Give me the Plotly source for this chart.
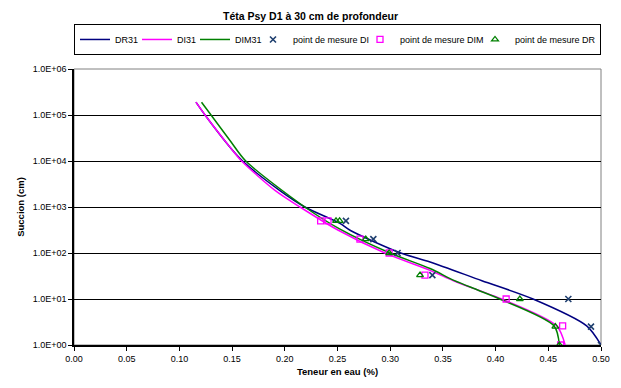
import plotly.graph_objects as go

# Fitted curves (teneur en eau, succion cm)
dr31_theta = [0.1157, 0.1243, 0.148, 0.160, 0.195, 0.219, 0.2523, 0.2619, 0.310, 0.3378, 0.387, 0.4355, 0.4864, 0.500]
dr31_h = [190000, 100000, 20000, 10000, 2300, 1000, 440, 312, 100, 64, 25, 10, 2.6, 1]

di31_theta = [0.1157, 0.1243, 0.148, 0.159, 0.1907, 0.2144, 0.2508, 0.295, 0.3378, 0.360, 0.3836, 0.4058, 0.458, 0.466]
di31_h = [190000, 100000, 20000, 10000, 2300, 1000, 312, 100, 42, 25, 15.5, 10, 2.6, 1]

dim31_theta = [0.121, 0.130, 0.148, 0.163, 0.219, 0.2524, 0.2998, 0.3378, 0.361, 0.3836, 0.404, 0.4555, 0.4605]
dim31_h = [190000, 100000, 28000, 10000, 1000, 330, 100, 46, 25, 15.5, 10, 2.6, 1]

# Measured points
mes_di_theta = [0.258, 0.284, 0.307, 0.340, 0.469, 0.4905, 0.500]
mes_di_h = [500, 200, 100, 33, 10, 2.5, 1]

mes_dim_theta = [0.234, 0.241, 0.2713, 0.299, 0.333, 0.410, 0.4636, 0.4617]
mes_dim_h = [500, 500, 200, 100, 33, 10, 2.6, 1]

mes_dr_theta = [0.2486, 0.252, 0.2768, 0.299, 0.3283, 0.423, 0.4567, 0.4605]
mes_dr_h = [500, 500, 200, 100, 33, 10, 2.5, 1]

y_ticks = [1, 10, 100, 1000, 10000, 100000, 1000000]
y_labels = ["1.0E+00", "1.0E+01", "1.0E+02", "1.0E+03", "1.0E+04", "1.0E+05", "1.0E+06"]

FONT = "Liberation Sans, Arial, sans-serif"

fig = go.Figure()

# curves (legendwidth trimmed so the legend stays on one row, like Excel's)
for name, xs, ys, col, lw in [
    ("DR31", dr31_theta, dr31_h, "#000080", 17),
    ("DI31", di31_theta, di31_h, "#FF00FF", 13),
    ("DIM31", dim31_theta, dim31_h, "#008000", 13),
]:
    fig.add_trace(go.Scatter(
        x=xs, y=ys, name=name, mode="lines", legendwidth=lw,
        line=dict(color=col, width=1.5, shape="spline", smoothing=0.8),
    ))

# measurement points
fig.add_trace(go.Scatter(
    x=mes_di_theta, y=mes_di_h, name="point de mesure DI", mode="markers", legendwidth=62,
    marker=dict(symbol="x-thin", size=6, line=dict(color="#1F3F6F", width=1.6)),
))
fig.add_trace(go.Scatter(
    x=mes_dim_theta, y=mes_dim_h, name="point de mesure DIM", mode="markers", legendwidth=70,
    marker=dict(symbol="square-open", size=6, color="#FF00FF", line=dict(width=1.3)),
))
fig.add_trace(go.Scatter(
    x=mes_dr_theta, y=mes_dr_h, name="point de mesure DR", mode="markers", legendwidth=80,
    marker=dict(symbol="triangle-up-open", size=6, color="#008000", line=dict(width=1.3)),
))

# gray plot-area frame (Excel style)
fig.add_shape(type="rect", xref="paper", yref="paper", x0=0, y0=0, x1=1, y1=1,
              line=dict(color="#808080", width=1), layer="below")

fig.update_layout(
    width=621, height=388,
    margin=dict(l=74, r=20, t=69, b=43),
    paper_bgcolor="white", plot_bgcolor="white",
    font=dict(family=FONT, size=9, color="black"),
    title=dict(text="<b>Téta Psy D1 à 30 cm de profondeur</b>", x=0.5, xanchor="center",
               y=0.959, yanchor="middle", font=dict(size=10.5)),
    showlegend=True,
    legend=dict(orientation="h", x=0.5, xanchor="center", y=1.107, yanchor="middle",
                bordercolor="black", borderwidth=1, font=dict(size=9),
                itemwidth=30, tracegroupgap=0),
)

fig.update_xaxes(
    range=[0, 0.5], tickvals=[i * 0.05 for i in range(11)], tickformat=".2f",
    showgrid=False, zeroline=False,
    showline=True, linecolor="black", linewidth=1.5,
    ticks="outside", ticklen=4, tickcolor="black",
    title=dict(text="<b>Teneur en eau (%)</b>", font=dict(size=9.5), standoff=6),
)
fig.update_yaxes(
    type="log", range=[0, 6], tickvals=y_ticks, ticktext=y_labels,
    showgrid=True, gridcolor="black", gridwidth=1, zeroline=False,
    showline=True, linecolor="black", linewidth=1.5,
    ticks="outside", ticklen=4, tickcolor="black",
    title=dict(text="<b>Succion (cm)</b>", font=dict(size=9.5), standoff=6),
)

# drop the default page margin so the figure sits at the window origin
fig.write_html("out.html", config={"displayModeBar": False},
               post_script="document.body.style.margin='0';")
